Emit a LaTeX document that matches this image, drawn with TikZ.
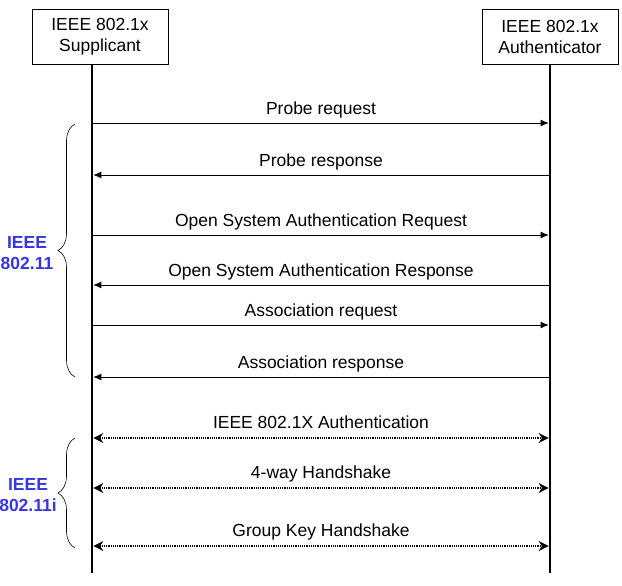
\documentclass[tikz,border=0pt]{standalone}
\usepackage{fontspec}
\setmainfont{Liberation Sans}
\usetikzlibrary{arrows.meta, positioning, decorations.pathreplacing}
\definecolor{stdblue}{RGB}{55,55,225}

\begin{document}
\begin{tikzpicture}[
      x=1pt, y=-1pt,
      font=\fontsize{17.5}{21}\selectfont,
      party/.style={draw, line width=0.8pt, align=center, minimum width=136pt, minimum height=55pt, inner sep=0pt},
      life/.style={line width=2.6pt},
      msg/.style={line width=0.8pt, -{Latex[length=8pt,width=7pt]}, shorten >=1.3pt},
      hand/.style={line width=1.2pt, densely dotted, {Stealth[length=10pt,width=10pt]}-{Stealth[length=10pt,width=10pt]}, shorten >=1.3pt, shorten <=1.3pt},
      lbl/.style={above=6pt, inner sep=0pt, text depth=0.25em},
      std/.style={text=stdblue, font=\fontsize{17.5}{21}\selectfont\bfseries, align=center},
      grp/.style={decorate, decoration={brace, amplitude=17pt}, line width=0.6pt}
    ]
    \useasboundingbox (0,0) rectangle (622,586);

    \node[party] (supp) at (100,36.5) {IEEE 802.1x\\Supplicant};
    \node[party] (auth) at (550,36.5) {IEEE 802.1x\\Authenticator};

    % lifelines
    \coordinate (suppfoot) at ([xshift=-8pt]supp.south);
    \coordinate (suppend) at (92,573);
    \coordinate (authend) at (550,573);
    \draw[life] (suppfoot) -- (suppend);
    \draw[life] (auth.south) -- (authend);

    \foreach \n/\y in {1/123,2/175,3/235,4/285,5/325,6/377,7/438,8/488,9/546}{
      \coordinate (s\n) at (92,\y);
      \coordinate (a\n) at (550,\y);
    }

    \draw[msg] (s1) -- node[lbl] {Probe request} (a1);
    \draw[msg] (a2) -- node[lbl] {Probe response} (s2);
    \draw[msg] (s3) -- node[lbl] {Open System Authentication Request} (a3);
    \draw[msg] (a4) -- node[lbl] {Open System Authentication Response} (s4);
    \draw[msg] (s5) -- node[lbl] {Association request} (a5);
    \draw[msg] (a6) -- node[lbl] {Association response} (s6);

    \draw[hand] (s7) -- node[lbl] {IEEE 802.1X Authentication} (a7);
    \draw[hand] (s8) -- node[lbl] {4-way Handshake} (a8);
    \draw[hand] (s9) -- node[lbl] {Group Key Handshake} (a9);

    % protocol groups
    \coordinate (g1top) at (75,124);
    \coordinate (g1bot) at (75,377);
    \coordinate (g2top) at (75,438);
    \coordinate (g2bot) at (75,548);
    \draw[grp] (g1bot) -- (g1top);
    \draw[grp] (g2bot) -- (g2top);
    \node[std] (wifi) at (27,253) {IEEE\\802.11};
    \node[std] (wifii) at (28,495) {IEEE\\802.11i};
  \end{tikzpicture}
\end{document}
